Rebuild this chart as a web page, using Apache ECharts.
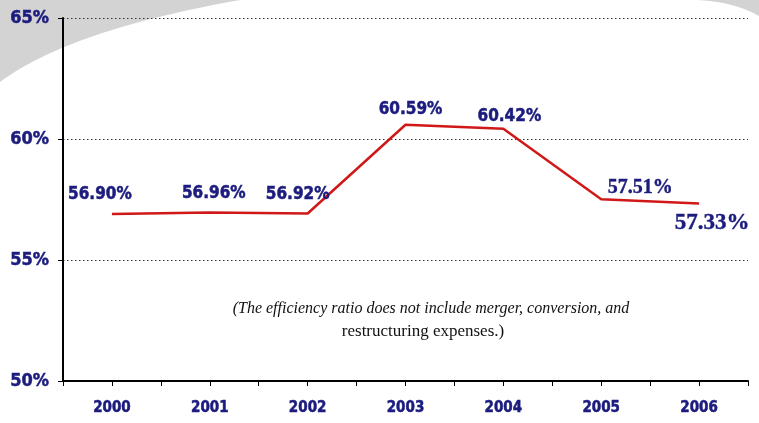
<!DOCTYPE html>
<html><head><meta charset="utf-8">
<script src="https://cdn.jsdelivr.net/npm/echarts@6/dist/echarts.min.js"></script>
<style>html,body{margin:0;padding:0;background:#fff}#c{width:759px;height:423px}</style>
</head><body><div id="c"></div>
<script>
var years = ['2000','2001','2002','2003','2004','2005','2006'];
var ratios = [56.90, 56.96, 56.92, 60.59, 60.42, 57.51, 57.33];
var yTicks = [50, 55, 60, 65];
var noteLine1 = '(The efficiency ratio does not include merger, conversion, and';
var noteLine2 = 'restructuring expenses.)';

var labelOffsets = [[-12,-19],[4,-19],[-10,-19],[5,-15],[6,-12],[39,-11],[13,19]];
var navy = '#1c1c7e';
var sansB = '"DejaVu Sans Condensed","DejaVu Sans",Verdana,sans-serif';
var serif = '"Liberation Serif","Times New Roman",serif';

function bez(p0,p1,p2,n){var pts=[];for(var i=0;i<=n;i++){var t=i/n,a=(1-t)*(1-t),b=2*(1-t)*t,c=t*t;pts.push([a*p0[0]+b*p1[0]+c*p2[0],a*p0[1]+b*p1[1]+c*p2[1]]);}return pts;}
var leftShape = [[0,0]].concat(bez([240,0],[70,30],[0,82],30));
var rightShape = [[759,0]].concat(bez([697,0],[735,2],[759,16],20));

var dataItems = ratios.map(function(v,i){
  var last = i === ratios.length-1, serifLbl = i >= 5;
  return {value: v, label: {offset: labelOffsets[i],
    fontFamily: serifLbl ? serif : sansB, fontWeight: 'bold',
    textBorderColor: navy, textBorderWidth: serifLbl ? 0.4 : 0.5,
    fontSize: last ? 23 : (serifLbl ? 20 : 17)}};
});

var chart = echarts.init(document.getElementById('c'));
chart.setOption({
  animation: false,
  backgroundColor: '#fff',
  graphic: [
    {type:'polygon', z:-100, shape:{points:leftShape}, style:{fill:'#d3d3d3'}},
    {type:'polygon', z:-100, shape:{points:rightShape}, style:{fill:'#d3d3d3'}},
    {type:'text', x: 431, y: 309, style:{text: noteLine1, align:'center', verticalAlign:'middle', font:'italic 16px ' + serif, fill:'#111'}},
    {type:'text', x: 423, y: 332, style:{text: noteLine2, align:'center', verticalAlign:'middle', font:'17px ' + serif, fill:'#111'}}
  ],
  grid: {left: 63, right: 11, top: 18, bottom: 42, containLabel: false},
  xAxis: [{
    type: 'category', data: years, boundaryGap: true,
    axisLine: {lineStyle: {color: '#000', width: 2}},
    axisTick: {show: true, interval: 0, length: 5, lineStyle: {color: '#000', width: 1}},
    axisLabel: {color: navy, fontFamily: sansB, fontWeight: 'bold', fontSize: 15, margin: 20, textBorderColor: navy, textBorderWidth: 0.5},
    splitLine: {show: false}
  },{
    type: 'category', data: years, boundaryGap: true, position: 'bottom',
    axisLine: {show: false},
    axisTick: {show: true, alignWithLabel: true, interval: 0, length: 5, lineStyle: {color: '#000', width: 1}},
    axisLabel: {show: false}, splitLine: {show: false}
  }],
  yAxis: {
    type: 'value', min: yTicks[0], max: yTicks[yTicks.length-1], interval: 5,
    axisLine: {show: true, lineStyle: {color: '#000', width: 2}},
    axisTick: {show: true, length: 5, lineStyle: {color: '#000', width: 1}},
    axisLabel: {formatter: '{value}%', color: navy, fontFamily: sansB, fontWeight: 'bold', fontSize: 18, margin: 14, textBorderColor: navy, textBorderWidth: 0.5},
    splitLine: {show: true, lineStyle: {color: '#333', width: 1, type: [1.5, 2.5]}}
  },
  series: [{
    type: 'line', data: dataItems, xAxisIndex: 0,
    symbol: 'circle', symbolSize: 1, showSymbol: true,
    itemStyle: {color: 'rgba(0,0,0,0)'},
    lineStyle: {color: '#d01818', width: 2.5},
    label: {show: true, position: 'inside', align: 'center', verticalAlign: 'middle',
      color: navy, fontWeight: 'bold', formatter: function(p){return p.value.toFixed(2) + '%';}},
    emphasis: {disabled: true}
  }]
});
</script></body></html>
